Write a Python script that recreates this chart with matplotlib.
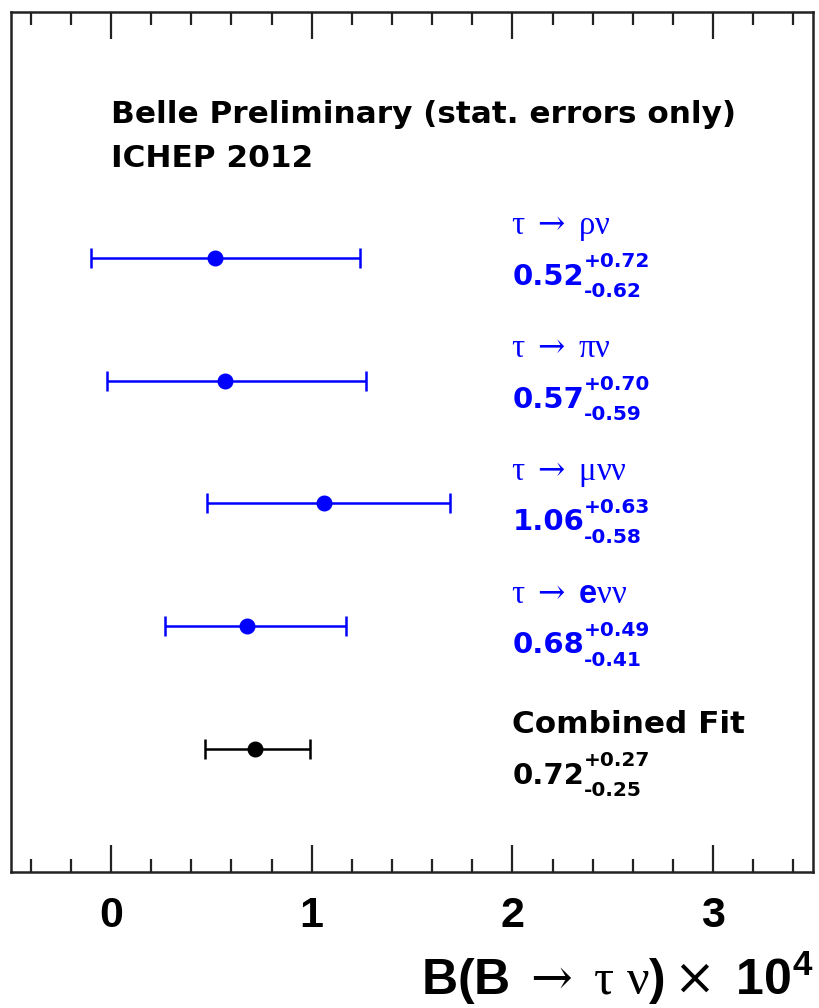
import matplotlib
matplotlib.use("Agg")
import matplotlib.pyplot as plt
import matplotlib.transforms as mtransforms
from matplotlib.ticker import MultipleLocator

# ---- data ----
channels = [r"$\tau\ \rightarrow\ \rho\nu$", r"$\tau\ \rightarrow\ \pi\nu$",
            r"$\tau\ \rightarrow\ \mu\nu\nu$", r"$\tau\ \rightarrow\ \mathsf{e}\nu\nu$",
            "Combined Fit"]
values = [0.52, 0.57, 1.06, 0.68, 0.72]
err_hi = [0.72, 0.70, 0.63, 0.49, 0.27]
err_lo = [0.62, 0.59, 0.58, 0.41, 0.25]
rows = [4, 3, 2, 1, 0]
colors = ["#0000ff", "#0000ff", "#0000ff", "#0000ff", "#000000"]
xticks = [0, 1, 2, 3]

plt.rcParams["mathtext.fontset"] = "custom"
plt.rcParams["mathtext.rm"] = "DejaVu Serif"
plt.rcParams["mathtext.it"] = "Liberation Serif"
plt.rcParams["mathtext.bf"] = "Liberation Sans:bold"
plt.rcParams["mathtext.sf"] = "Liberation Sans:bold"
plt.rcParams["font.family"] = ["DejaVu Sans"]

fig = plt.figure(figsize=(8.2, 10.08), dpi=100)
ax = fig.add_axes([10.6 / 820, 1 - 872 / 1008, (813.5 - 10.6) / 820, (872 - 12) / 1008])

for v, lo, hi, r, c in zip(values, err_lo, err_hi, rows, colors):
    ax.errorbar([v], [r], xerr=[[lo], [hi]], fmt="o", color=c, ecolor=c,
                markersize=10.5, elinewidth=1.8, capsize=7, capthick=1.8)

ax.set_xlim(-0.5, 3.5)
ax.set_ylim(-1.0, 6.0)
ax.set_yticks([])
ax.set_xticks(xticks)
ax.set_xticklabels([str(t) for t in xticks], fontsize=31, fontweight="bold",
                   family="Liberation Sans")
ax.xaxis.set_minor_locator(MultipleLocator(0.2))
ax.tick_params(axis="x", which="both", direction="in", top=True, bottom=True,
               width=1.6, color="#222222", pad=17)
ax.tick_params(axis="x", which="major", length=19.5)
ax.tick_params(axis="x", which="minor", length=9.5)
for s in ax.spines.values():
    s.set_linewidth(1.8)
    s.set_color("#222222")

# header
ax.text(0.0, 5.10, "Belle Preliminary (stat. errors only)", fontsize=22.4,
        fontweight="bold", ha="left", va="baseline")
ax.text(0.0, 4.74, "ICHEP 2012", fontsize=22.4, fontweight="bold",
        ha="left", va="baseline")

# labels and values
mains = []
for lab, v, lo, hi, r, c in zip(channels, values, err_lo, err_hi, rows, colors):
    if lab == "Combined Fit":
        ax.text(2.0, r + 0.13, lab, fontsize=22.4, fontweight="bold", color=c,
                ha="left", va="baseline")
        yv = r - 0.28
    else:
        ax.text(1.995, r + 0.19, lab, fontsize=23.5, color=c, ha="left", va="baseline")
        yv = r - 0.22
    t = ax.text(2.0, yv, "%.2f" % v, fontsize=21, fontweight="bold", color=c,
                ha="left", va="baseline")
    mains.append((t, yv, hi, lo, c))

fig.canvas.draw()
tr_up = mtransforms.offset_copy(ax.transData, fig=fig, x=0.0, y=12.5, units="points")
tr_dn = mtransforms.offset_copy(ax.transData, fig=fig, x=0.0, y=-8.8, units="points")
for t, yv, hi, lo, c in mains:
    bb = t.get_window_extent()
    xd = ax.transData.inverted().transform((bb.x1, 0))[0]
    ax.text(xd, yv, "+%.2f" % hi, fontsize=14.5, fontweight="bold", color=c,
            ha="left", va="baseline", transform=tr_up)
    ax.text(xd, yv, "-%.2f" % lo, fontsize=14.5, fontweight="bold", color=c,
            ha="left", va="baseline", transform=tr_dn)

fig.text(0.992, 0.013,
         r"$\mathbf{B(B}\ \rightarrow\ \tau\ \nu\mathbf{)}\times\ \mathbf{10^4}$",
         fontsize=36, ha="right", va="baseline")

fig.savefig("out.png", dpi=100)
